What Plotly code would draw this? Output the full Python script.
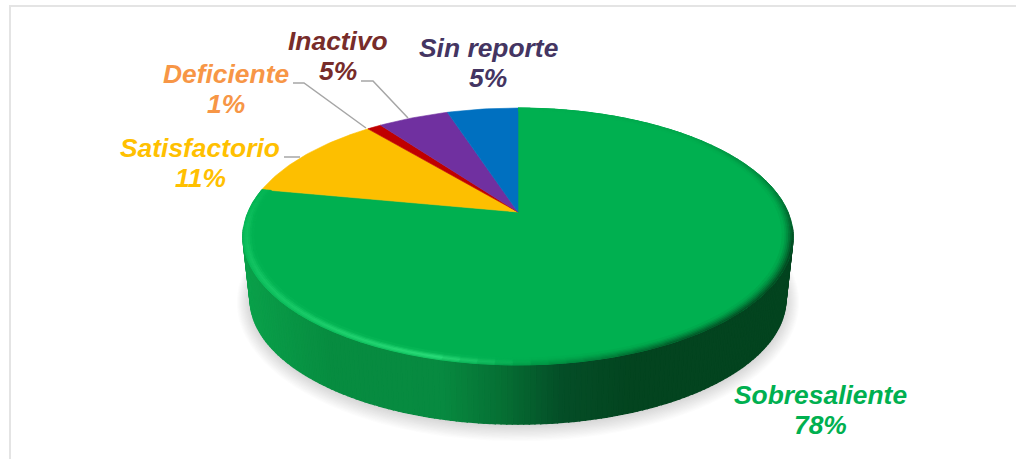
import numpy as np
import plotly.graph_objects as go

categories = ["Sobresaliente", "Satisfactorio", "Deficiente", "Inactivo", "Sin reporte"]
shares = [78, 11, 1, 5, 5]
slice_colors = ["#00b050", "#fdbf00", "#c00000", "#7030a0", "#0070c0"]
label_colors = ["#00b050", "#ffc000", "#f79646", "#772c2a", "#443562"]
label_centres = [(820, 410), (200, 163), (226, 89), (338, 56), (488, 63)]
leaders = [
    ([284, 300], [157, 157]),
    ([293, 304, 366], [83, 83, 128]),
    ([361, 373, 408], [81, 81, 118]),
]

W, H = 1016, 459
LINE_GAP = 30
CX, Y0, A, B, K = 518, 212, 270, 123.8, 0.1907
Y0B, AB, BB = 275, 263, 120.7
FACE = np.array([0, 176, 80], float)


def top(theta, r=1.0):
    t = np.radians(theta)
    u, v = r * np.sin(t), r * np.cos(t)
    w = 1 + K * v
    return CX + A * u / w, Y0 - B * v / w


def bottom(theta, d=0.0, dy=0.0):
    t = np.radians(theta)
    u, v = np.sin(t), np.cos(t)
    w = 1 + K * v
    return CX + (AB + d) * u / w, Y0B + dy - (BB + d) * v / w


def rgb(c):
    return "rgb(%d,%d,%d)" % tuple(np.clip(np.round(c), 0, 255))


def hexc(s):
    return np.array([int(s[i:i + 2], 16) for i in (1, 3, 5)], float)


fig = go.Figure()


def poly(xs, ys, color, lw=0.6):
    fig.add_trace(go.Scatter(
        x=list(xs), y=list(ys), mode="lines", fill="toself", fillcolor=color,
        line=dict(color=color, width=lw), hoverinfo="skip", showlegend=False))


# soft shadow
th_all = np.linspace(0, 360, 181)
for d in range(13, 0, -1):
    sx, sy = bottom(th_all, d=d, dy=1)
    poly(sx, sy, "rgba(90,90,90,0.018)", lw=0)

# side wall
wall_x = [248, 330, 440, 500, 560, 630, 800]
wall_c = [hexc(c) for c in ["#0aa04a", "#078c40", "#078a40", "#067034", "#044e27", "#03441f", "#03441f"]]
edges = np.linspace(97, 263, 167)
for a, b in zip(edges[:-1], edges[1:]):
    x1, y1 = top(a)
    x2, y2 = top(b)
    x3, y3 = bottom(b)
    x4, y4 = bottom(a)
    mid = (x1 + x2 + x3 + x4) / 4
    c = [np.interp(mid, wall_x, [w[i] for w in wall_c]) for i in range(3)]
    poly([x1, x2, x3, x4, x1], [y1, y2, y3, y4, y1], rgb(c), lw=1.4)

# slices of the top face
cum = np.cumsum([0] + shares) / sum(shares) * 360
for i, cat in enumerate(categories):
    th = np.linspace(cum[i], cum[i + 1], max(4, int(shares[i] * 3)))
    x, y = top(th)
    poly(np.r_[CX, x, CX], np.r_[Y0, y, Y0], slice_colors[i])

# bevel on the green slice
stops_t = [0, 45, 80, 105, 150, 178, 195, 225, 265, cum[1]]
stops_s = [0, 0.1, 0.45, 0.95, 0.8, 0.2, 0.0, 0, 0, 0]
stops_h = [0, 0, 0, 0, 0, 0.0, 0.9, 0.55, 0.3, 0.12]
DARK = hexc("#03441f")
HI = hexc("#2ee07c")
radii = np.linspace(1, 0.962, 7)
arc = np.linspace(0, cum[1], 91)
for j in range(6):
    depth = 1 - j / 6
    prof_h = [0.55, 0.85, 1, 0.75, 0.4, 0.12][j]
    for a, b in zip(arc[:-1], arc[1:]):
        m = (a + b) / 2
        s = np.interp(m, stops_t, stops_s) * depth ** 1.4
        h = np.interp(m, stops_t, stops_h) * prof_h
        c = FACE + (DARK - FACE) * s + (HI - FACE) * h
        x1, y1 = top(a, radii[j])
        x2, y2 = top(b, radii[j])
        x3, y3 = top(b, radii[j + 1])
        x4, y4 = top(a, radii[j + 1])
        poly([x1, x2, x3, x4, x1], [y1, y2, y3, y4, y1], rgb(c), lw=0.9)

# leader lines
for lx, ly in leaders:
    fig.add_trace(go.Scatter(x=lx, y=ly, mode="lines", line=dict(color="#a6a6a6", width=1.5),
                             hoverinfo="skip", showlegend=False))

# frame
fig.add_trace(go.Scatter(x=[10, 10, W], y=[H, 6, 6], mode="lines",
                         line=dict(color="#e4e4e4", width=2), hoverinfo="skip", showlegend=False))

for cat, v, c, (lx, ly) in zip(categories, shares, label_colors, label_centres):
    for line, dy in ((cat, -LINE_GAP / 2), (f"{v}%", LINE_GAP / 2)):
        fig.add_annotation(x=lx, y=ly + dy, text=f"<b><i>{line}</i></b>", showarrow=False,
                           xanchor="center", yanchor="middle", align="center",
                           font=dict(family="Liberation Sans", size=26.4, color=c))

fig.update_layout(
    width=W, height=H, margin=dict(l=0, r=0, t=0, b=0),
    paper_bgcolor="white", plot_bgcolor="white", showlegend=False,
    xaxis=dict(range=[0, W], visible=False, fixedrange=True),
    yaxis=dict(range=[H, 0], visible=False, fixedrange=True),
)
fig.write_html("out.html", config=dict(displayModeBar=False),
               post_script="document.body.style.margin='0';document.documentElement.style.overflow='hidden';")
